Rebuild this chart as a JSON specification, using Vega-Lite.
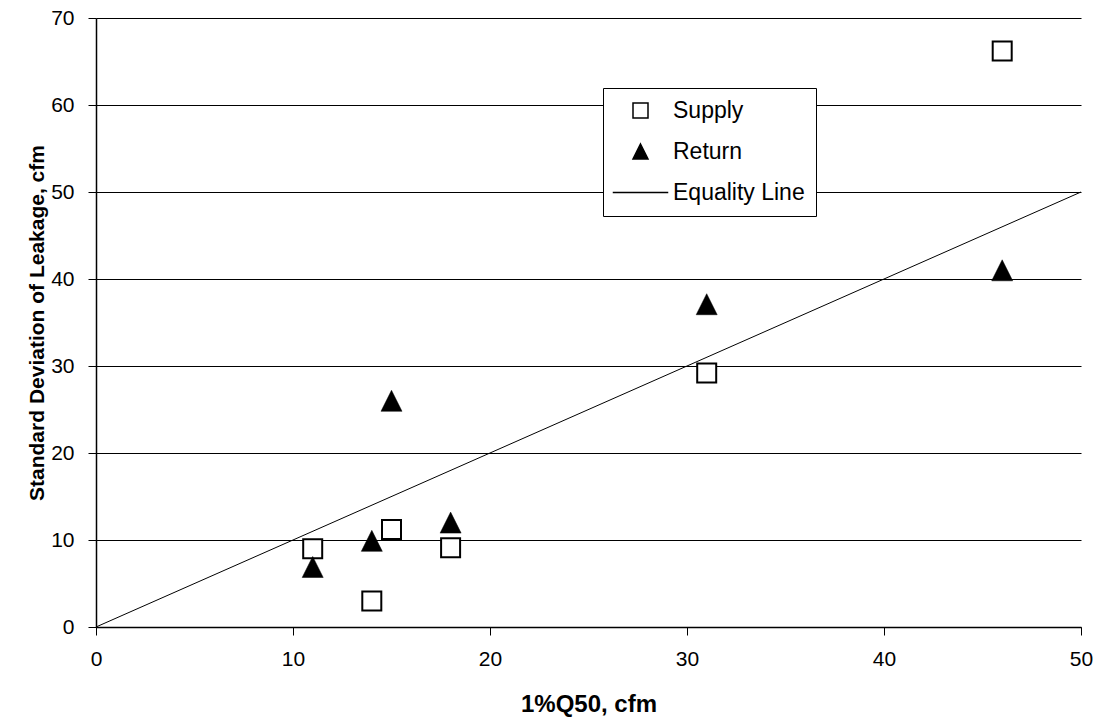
{
  "$schema": "https://vega.github.io/schema/vega-lite/v6.json",
  "width": 985,
  "height": 609,
  "autosize": {"type": "none"},
  "padding": {"left": 96, "top": 18, "right": 20, "bottom": 99},
  "background": "white",
  "config": {
    "view": {"stroke": null},
    "font": "Liberation Sans",
    "axis": {
      "domainColor": "black",
      "domainWidth": 1.5,
      "tickColor": "black",
      "tickSize": 8,
      "tickWidth": 1,
      "labelFont": "Liberation Sans",
      "labelFontSize": 21,
      "labelColor": "black",
      "titleFont": "Liberation Sans",
      "titleColor": "black",
      "titleFontWeight": "bold",
      "labelFlush": false,
      "labelOverlap": false
    }
  },
  "datasets": {
    "supply": [
      {"q": 11, "sd": 9, "series": "Supply"},
      {"q": 14, "sd": 3, "series": "Supply"},
      {"q": 15, "sd": 11.2, "series": "Supply"},
      {"q": 18, "sd": 9.1, "series": "Supply"},
      {"q": 31, "sd": 29.2, "series": "Supply"},
      {"q": 46, "sd": 66.2, "series": "Supply"}
    ],
    "return": [
      {"q": 11, "sd": 6.9, "series": "Return"},
      {"q": 14, "sd": 9.9, "series": "Return"},
      {"q": 15, "sd": 26, "series": "Return"},
      {"q": 18, "sd": 12, "series": "Return"},
      {"q": 31, "sd": 37.1, "series": "Return"},
      {"q": 46, "sd": 41, "series": "Return"}
    ],
    "equality": [
      {"q": 0, "sd": 0},
      {"q": 50, "sd": 50}
    ]
  },
  "encoding": {
    "x": {
      "field": "q",
      "type": "quantitative",
      "scale": {"domain": [0, 50], "nice": false, "zero": false},
      "axis": {
        "values": [0, 10, 20, 30, 40, 50],
        "grid": false,
        "labelFontSize": 21,
        "labelPadding": 13,
        "title": "1%Q50, cfm",
        "titleFontSize": 24,
        "titlePadding": 23
      }
    },
    "y": {
      "field": "sd",
      "type": "quantitative",
      "scale": {"domain": [0, 70], "nice": false, "zero": false},
      "axis": {
        "values": [0, 10, 20, 30, 40, 50, 60, 70],
        "grid": true,
        "gridColor": "black",
        "gridWidth": 1,
        "gridOpacity": 1,
        "labelFontSize": 21,
        "labelPadding": 14,
        "title": "Standard Deviation of Leakage, cfm",
        "titleFontSize": 21,
        "titlePadding": 3
      }
    }
  },
  "layer": [
    {
      "data": {"name": "equality"},
      "mark": {"type": "line", "color": "black", "strokeWidth": 1},
      "encoding": {}
    },
    {
      "data": {"name": "supply"},
      "mark": {"type": "point", "filled": true, "size": 361, "stroke": "black", "strokeWidth": 2, "opacity": 1},
      "encoding": {
        "shape": {
          "field": "series",
          "type": "nominal",
          "scale": {"domain": ["Supply", "Return", "Equality Line"], "range": ["square", "M0,-1L1,1L-1,1Z", "M-3.7,0H3.7"]},
          "legend": {
            "title": null,
            "orient": "none",
            "legendX": 507,
            "legendY": 70,
            "direction": "vertical",
            "padding": 11,
            "fillColor": "white",
            "strokeColor": "black",
            "symbolSize": 225,
            "symbolOffset": 15,
            "labelOffset": 21,
            "labelFontSize": 23,
            "labelFont": "Liberation Sans",
            "labelColor": "black",
            "rowPadding": 17,
            "encode": {
              "symbols": {
                "update": {
                  "stroke": {"value": "black"},
                  "strokeWidth": {"value": 1.5},
                  "opacity": {"value": 1}
                }
              }
            }
          }
        },
        "fill": {
          "field": "series",
          "type": "nominal",
          "scale": {"domain": ["Supply", "Return", "Equality Line"], "range": ["white", "black", "black"]},
          "legend": {
            "title": null,
            "orient": "none",
            "legendX": 507,
            "legendY": 70,
            "direction": "vertical",
            "padding": 11,
            "fillColor": "white",
            "strokeColor": "black",
            "symbolSize": 225,
            "symbolOffset": 15,
            "labelOffset": 21,
            "labelFontSize": 23,
            "labelFont": "Liberation Sans",
            "labelColor": "black",
            "rowPadding": 17,
            "encode": {
              "symbols": {
                "update": {
                  "stroke": {"value": "black"},
                  "strokeWidth": {"value": 1.5},
                  "opacity": {"value": 1}
                }
              }
            }
          }
        }
      }
    },
    {
      "data": {"name": "return"},
      "mark": {"type": "point", "filled": true, "size": 441, "stroke": "black", "strokeWidth": 0.5, "opacity": 1},
      "encoding": {
        "shape": {"field": "series", "type": "nominal"},
        "fill": {"field": "series", "type": "nominal"}
      }
    }
  ]
}
